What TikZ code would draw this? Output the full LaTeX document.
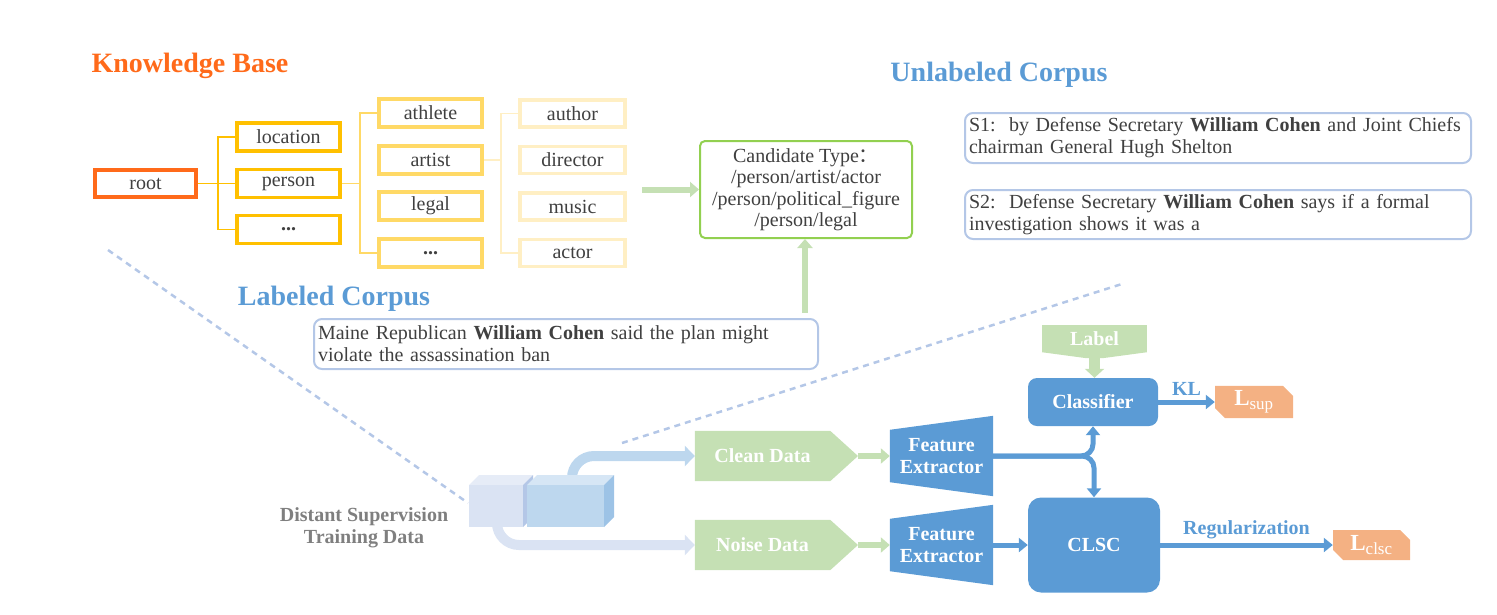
\documentclass[tikz,border=0pt]{standalone}
\usepackage{fontspec}
\setmainfont{Liberation Serif}
\newfontfamily\cjkfont{Noto Sans CJK SC}
\usetikzlibrary{arrows.meta,calc,shapes.misc,backgrounds}
\definecolor{txt}{HTML}{404040}
\definecolor{kborange}{HTML}{FF6A1A}
\definecolor{goldA}{HTML}{FFC000}
\definecolor{goldB}{HTML}{FFD966}
\definecolor{goldC}{HTML}{FFEFC4}
\definecolor{gborder}{HTML}{92D050}
\definecolor{gfill}{HTML}{C5E0B4}
\definecolor{bmain}{HTML}{5B9BD5}
\definecolor{bline}{HTML}{B4C7E7}
\definecolor{cubeA}{HTML}{DAE3F3}
\definecolor{cubeAtop}{HTML}{E6ECF7}
\definecolor{cubeAside}{HTML}{B4C7E7}
\definecolor{cubeB}{HTML}{BDD7EE}
\definecolor{cubeBtop}{HTML}{D6E6F5}
\definecolor{cubeBside}{HTML}{9DC3E6}
\definecolor{lossc}{HTML}{F4B183}
\definecolor{dsgray}{HTML}{7F7F7F}
\tikzset{
  every node/.style={font=\fontsize{20}{22}\selectfont, text=txt, inner sep=0pt},
  rootbox/.style={draw=kborange, line width=3.5pt, fill=white, minimum width=101pt, minimum height=27pt},
  kbA/.style={draw=goldA, line width=3.5pt, fill=white, minimum width=103pt, minimum height=28pt},
  kbB/.style={draw=goldB, line width=3.5pt, fill=white, minimum width=103pt, minimum height=28pt},
  kbC/.style={draw=goldC, line width=3.5pt, fill=white, minimum width=105pt, minimum height=27pt},
  cA/.style={draw=goldA, line width=1.5pt},
  cB/.style={draw=goldB, line width=1.5pt},
  cC/.style={draw=goldC, line width=1.5pt},
  titlebox/.style={font=\fontsize{28}{32}\selectfont\bfseries},
  candbox/.style={draw=gborder, line width=2pt, rounded corners=5pt, fill=white, minimum width=212pt, minimum height=97pt, align=center, font=\fontsize{20}{21.5}\selectfont},
  sentbox/.style={draw=bline, line width=2pt, rounded corners=8pt, fill=white, text width=498pt, inner xsep=4pt, align=left, font=\fontsize{20}{22}\selectfont},
  garrow/.style={draw=gfill, line width=6pt, -{Triangle[length=9pt,width=15pt]}},
  lgarrow/.style={draw=gfill, line width=11pt, -{Triangle[length=9pt,width=19pt]}},
  barrow/.style={draw=bmain, line width=5pt, -{Triangle[length=9pt,width=14pt]}},
  dashline/.style={draw=bline, line width=2.5pt, dash pattern=on 6pt off 5pt},
  datash/.style={minimum width=135pt, minimum height=50pt},
  whitebold/.style={text=white, font=\fontsize{20}{22}\selectfont\bfseries, align=center},
  bluebox/.style={fill=bmain, text=white, font=\fontsize{20}{22}\selectfont\bfseries},
  lossbox/.style={chamfered rectangle, chamfered rectangle corners={north east,south west}, chamfered rectangle xsep=5pt, chamfered rectangle ysep=5pt, fill=lossc, text=white, font=\fontsize{23}{24}\selectfont\bfseries},
  bluelabel/.style={text=bmain, font=\fontsize{20}{22}\selectfont\bfseries},
}
\begin{document}
\begin{tikzpicture}[x=1pt,y=-1pt]
\useasboundingbox (0,0) rectangle (1497,614);

% titles
\node[titlebox, text=kborange] (kbt) at (190,66) {Knowledge Base};
\node[titlebox, text=bmain] (ulc) at (999,75) {Unlabeled Corpus};
\node[titlebox, text=bmain] (lct) at (334,299) {Labeled Corpus};

% knowledge base tree
\node[rootbox] (root) at (145.5,183.5) {root};
\node[kbA] (loc) at (288.5,137) {location};
\node[kbA] (person) at (288.5,183.5) {person};
\node[kbA] (dotsA) at (288.5,229.5) {\textbf{...}};
\node[kbB] (athlete) at (430.5,113) {athlete};
\node[kbB] (artist) at (430.5,160) {artist};
\node[kbB] (legal) at (430.5,206) {legal};
\node[kbB] (dotsB) at (430.5,253) {\textbf{...}};
\node[kbC] (author) at (572.5,113.5) {author};
\node[kbC] (director) at (572.5,160) {director};
\node[kbC] (music) at (572.5,206.5) {music};
\node[kbC] (actor) at (572.5,253) {actor};
\coordinate (jA) at (218,183.5);
\coordinate (jB) at (360,183.5);
\coordinate (jC) at (501,160);
\draw[cA] (root.east) -- (jA) -- (person.west);
\draw[cA] (loc.west) -| (jA) |- (dotsA.west);
\draw[cB] (person.east) -- (jB);
\draw[cB] (athlete.west) -| (jB) |- (dotsB.west);
\draw[cC] (artist.east) -- (jC);
\draw[cC] (author.west) -| (jC) |- (actor.west);

% candidate
\node[candbox] (cand) at (806,189.5) {Candidate Type{\cjkfont ：}\\/person/artist/actor\\/person/political\_figure\\/person/legal};
\coordinate (kbout) at (642,189.5);
\draw[garrow] (kbout) -- (cand.west);

% sentences
\node[sentbox, minimum height=50pt] (s1) at (1218,138) {S1:\ \ by Defense Secretary \textbf{William Cohen} and Joint Chiefs\\chairman General Hugh Shelton};
\node[sentbox, minimum height=49pt] (s2) at (1218,214.5) {S2:\ \ Defense Secretary \textbf{William Cohen} says if a formal\\investigation shows it was a};
\node[sentbox, text width=496pt, minimum height=50pt] (lab) at (566,344) {Maine Republican \textbf{William Cohen} said the plan might\\violate the assassination ban};
\coordinate (labtop) at (805,313);
\draw[garrow] (labtop) -- (labtop |- cand.south);

% dashed guide lines
\coordinate (dAa) at (108,250);
\coordinate (dAb) at (468,503);
\coordinate (dBa) at (622,443);
\coordinate (dBb) at (1125,283);
\draw[dashline] (dAa) -- (dAb);
\draw[dashline] (dBa) -- (dBb);

% data shapes
\node[datash, whitebold] (clean) at (762.5,456) {Clean Data};
\node[datash, whitebold] (noise) at (762.5,545) {Noise Data};
\coordinate (cleantip) at (858,456);
\coordinate (noisetip) at (858,545);
\begin{scope}[on background layer]
\fill[gfill] (clean.north west) -- (clean.north east) -- (cleantip) -- (clean.south east) -- (clean.south west) -- cycle;
\fill[gfill] (noise.north west) -- (noise.north east) -- (noisetip) -- (noise.south east) -- (noise.south west) -- cycle;
\end{scope}

% cube arrows
\coordinate (cubetop) at (572,482);
\coordinate (cubebot) at (497,522);
\draw[draw=cubeB, line width=10pt, rounded corners=22pt, -{Triangle[length=10pt,width=20pt]}] (cubetop) |- (clean.west);
\draw[draw=cubeA, line width=10pt, rounded corners=22pt, -{Triangle[length=10pt,width=20pt]}] (cubebot) |- (noise.west);

% cubes
\fill[cubeAtop] (469,485) -- (479,475) -- (533,475) -- (523,485) -- cycle;
\fill[cubeAside] (523,485) -- (533,475) -- (533,517) -- (523,527) -- cycle;
\fill[cubeA] (469,485) rectangle (523,527);
\fill[cubeBtop] (527,485) -- (537,475) -- (614,475) -- (604,485) -- cycle;
\fill[cubeBside] (604,485) -- (614,475) -- (614,517) -- (604,527) -- cycle;
\fill[cubeB] (527,485) rectangle (604,527);

\node[text=dsgray, font=\fontsize{20}{22}\selectfont\bfseries, align=center] (ds) at (364,528) {Distant Supervision\\Training Data};

% feature extractors
\node[whitebold, minimum width=103pt, minimum height=80pt] (feA) at (941.5,456) {Feature\\Extractor};
\node[whitebold, minimum width=103pt, minimum height=80pt] (feB) at (941.5,545) {Feature\\Extractor};
\begin{scope}[on background layer]
\fill[bmain] (feA.north east) -- (feA.south east) -- ($(feA.south west)+(0,-14)$) -- ($(feA.north west)+(0,14)$) -- cycle;
\fill[bmain] (feB.north east) -- (feB.south east) -- ($(feB.south west)+(0,-14)$) -- ($(feB.north west)+(0,14)$) -- cycle;
\end{scope}
\draw[garrow] (cleantip) -- (feA.west);
\draw[garrow] (noisetip) -- (feB.west);

% classifier and CLSC
\node[bluebox, rounded corners=9pt, minimum width=130pt, minimum height=48pt] (cls) at (1093,402) {Classifier};
\node[bluebox, rounded corners=13pt, minimum width=132pt, minimum height=95pt] (clsc) at (1094,545) {CLSC};
\node[fill=gfill, text=white, font=\fontsize{20}{22}\selectfont\bfseries, minimum width=105pt, minimum height=27pt] (labl) at (1094.5,338.5) {Label};
\fill[gfill] (labl.south west) -- ($(labl.south)+(-8,6)$) -- ($(labl.south)+(8,6)$) -- (labl.south east) -- cycle;
\draw[lgarrow] ($(labl.south)+(0,4)$) -- (labl.south |- cls.north);

\draw[barrow, rounded corners=12pt] (feA.east) -| (cls.south);
\draw[barrow, rounded corners=12pt] (feA.east) -| (clsc.north);
\draw[barrow] (feB.east) -- (clsc.west);

\node[lossbox, minimum width=78pt, minimum height=28pt] (lsup) at (1254,402) {L\textsubscript{\fontsize{17}{17}\selectfont\mdseries sup}};
\node[lossbox, minimum width=77pt, minimum height=30pt] (lclsc) at (1371.5,545) {L\textsubscript{\fontsize{17}{17}\selectfont\mdseries clsc}};
\draw[barrow] (cls.east) -- (lsup.west) node[bluelabel, midway, above=4pt] (kl) {KL};
\draw[barrow] (clsc.east) -- (lclsc.west) node[bluelabel, midway, above=4pt] (reg) {Regularization};
\end{tikzpicture}
\end{document}
